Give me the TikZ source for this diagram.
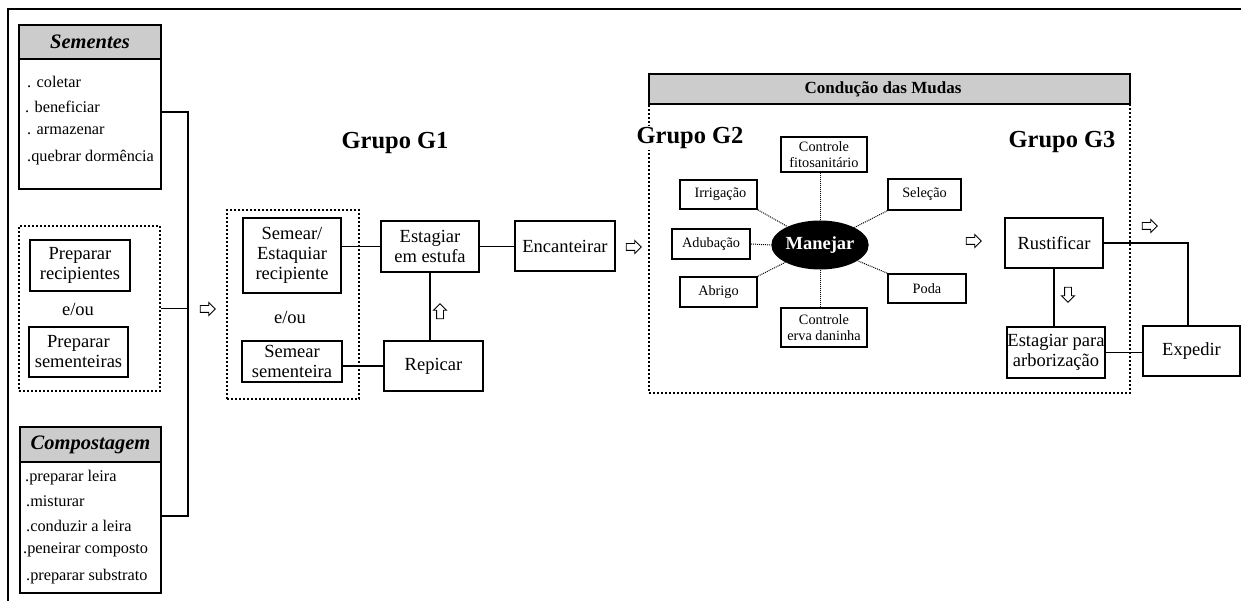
\documentclass[tikz,border=0pt]{standalone}
\usepackage{fontspec}
\setmainfont{Liberation Serif}
\usetikzlibrary{shapes.geometric,shapes.arrows}
\definecolor{hdgray}{gray}{0.80}
\tikzset{
  bx/.style={draw, line width=1.9pt, fill=white, inner sep=0pt, align=center,
    font=\fontsize{18.5}{20}\selectfont},
  sbx/.style={draw, line width=1.7pt, fill=white, inner sep=0pt, align=center,
    font=\fontsize{14.3}{16}\selectfont},
  hd/.style={draw, line width=1.9pt, fill=hdgray, inner sep=0pt,
    font=\fontsize{20.5}{22}\selectfont\bfseries\itshape},
  body/.style={draw, line width=1.9pt, fill=white, inner sep=0pt},
  item/.style={anchor=west, inner sep=0pt, font=\fontsize{16.3}{18}\selectfont},
  dotbox/.style={draw, line width=2.2pt, dash pattern=on 2pt off 2pt, inner sep=0pt},
  grp/.style={font=\fontsize{24.5}{27}\selectfont\bfseries, inner sep=1pt},
  conn/.style={line width=1.9pt},
  dconn/.style={line width=1pt, dash pattern=on 1pt off 1pt},
  lbl/.style={font=\fontsize{18.5}{20}\selectfont, inner sep=0pt},
  harrow/.style={single arrow, draw, fill=white, line width=0.9pt, inner xsep=0pt, inner ysep=3pt,
    minimum height=15pt, single arrow head extend=3pt}
}
\begin{document}
\begin{tikzpicture}[x=1pt,y=-1pt]
\useasboundingbox (0,0) rectangle (1241,601);
% outer frame
\draw[line width=1.9pt] (1241,9) -- (8,9) -- (8,601);

% ---- Sementes
\node[body, minimum width=142pt, minimum height=130pt] (sembody) at (90,124) {};
\node[hd, minimum width=142pt, minimum height=34pt] (semhead) at (90,42) {Sementes};
\node[item] (s1) at (27,82) {. coletar};
\node[item] (s2) at (25,107) {. beneficiar};
\node[item] (s3) at (27,131) {. armazenar};
\node[item] (s4) at (27,158) {.quebrar dormência};

% ---- Preparar
\node[dotbox, minimum width=141pt, minimum height=165pt] (prep) at (89.5,308.5) {};
\node[bx, minimum width=100pt, minimum height=51pt] (prec) at (80,265.5) {Preparar\\recipientes};
\node[lbl] (eou1) at (78,309) {e/ou};
\node[bx, minimum width=99pt, minimum height=50pt] (psem) at (78.5,352) {Preparar\\sementeiras};

% ---- Compostagem
\node[body, minimum width=141pt, minimum height=131pt] (compbody) at (90.5,527.5) {};
\node[hd, minimum width=141pt, minimum height=35pt] (comphead) at (90.5,444.5) {Compostagem};
\node[item] (c1) at (25,478) {.preparar leira};
\node[item] (c2) at (26,501) {.misturar};
\node[item] (c3) at (26,526) {.conduzir a leira};
\node[item] (c4) at (23,550) {.peneirar composto};
\node[item] (c5) at (26,577) {.preparar substrato};

% bus
\coordinate (busT) at (188,112);
\coordinate (busB) at (188,516);
\draw[conn] (sembody.east |- busT) -- (busT) -- (busB) -- (compbody.east |- busB);
\draw[conn] (prep.east) -- (prep.east -| busT);
\node[harrow] (a1) at (206,309) {};

% ---- Grupo G1
\node[grp] (g1) at (395,143) {Grupo G1};
\node[dotbox, minimum width=132pt, minimum height=189pt] (g1box) at (293,304.5) {};
\node[bx, minimum width=98pt, minimum height=75pt] (sem1) at (292,255.5) {Semear/\\Estaquiar\\recipiente};
\node[lbl] (eou2) at (290,317) {e/ou};
\node[bx, minimum width=100pt, minimum height=41pt] (sem2) at (292,361.5) {Semear\\sementeira};
\node[bx, minimum width=98pt, minimum height=51pt] (estuf) at (430,246.5) {Estagiar\\em estufa};
\node[bx, minimum width=100pt, minimum height=50pt] (encan) at (565,246) {Encanteirar};
\node[bx, minimum width=99pt, minimum height=50pt] (repic) at (433.5,366) {Repicar};
\draw[conn] (estuf.west) -- (estuf.west -| sem1.east);
\draw[conn] (estuf.east) -- (estuf.east -| encan.west);
\draw[conn] (estuf.south) -- (estuf.south |- repic.north);
\draw[conn] (repic.west) -- (repic.west -| sem2.east);
\node[harrow, rotate=90] (a2) at (440,313) {};
\node[harrow] (a3) at (632,247) {};

% ---- Condução das Mudas
\node[dotbox, minimum width=481pt, minimum height=289pt] (condbox) at (889.5,248.5) {};
\node[draw, line width=1.9pt, fill=hdgray, inner sep=0pt, minimum width=481pt, minimum height=30pt,
  font=\fontsize{17}{19}\selectfont\bfseries] (condhead) at (889.5,89) {\hspace*{-13pt}Condução das Mudas};
\node[grp, fill=white] (g2) at (690,138) {Grupo G2};
\node[grp] (g3) at (1062,142) {Grupo G3};

\node[sbx, minimum width=86pt, minimum height=35pt] (fito) at (824,154.5) {Controle\\fitosanitário};
\node[sbx, minimum width=77pt, minimum height=29pt] (irr) at (718.5,194.5) {\hspace*{4pt}Irrigação};
\node[sbx, minimum width=73pt, minimum height=31pt] (sel) at (924.5,194.5) {Seleção};
\node[sbx, minimum width=78pt, minimum height=30pt] (adu) at (711,244) {Adubação};
\node[sbx, minimum width=77pt, minimum height=30pt] (abr) at (718.5,292) {Abrigo};
\node[sbx, minimum width=78pt, minimum height=29pt] (poda) at (927,288.5) {Poda};
\node[sbx, minimum width=86pt, minimum height=39pt] (erva) at (824,327.5) {Controle\\erva daninha};
\node[ellipse, fill=black, text=white, inner sep=0pt, minimum width=83pt, minimum height=49pt,
  font=\fontsize{18.5}{20}\selectfont\bfseries] (man) at (820,245) {Manejar};
\draw[dconn] (man.north) -- (man.north |- fito.south);
\draw[dconn] (man.south) -- (man.south |- erva.north);
\draw[dconn] (irr.south east) -- (man);
\draw[dconn] (adu.east) -- (man.west);
\draw[dconn] (abr.north east) -- (man);
\draw[dconn] (sel.south west) -- (man);
\draw[dconn] (poda.north west) -- (man);
\node[harrow] (a4) at (972,241) {};

% ---- Grupo G3
\node[bx, minimum width=98pt, minimum height=50pt] (rust) at (1054,243) {Rustificar};
\node[bx, minimum width=98pt, minimum height=51pt] (arbo) at (1056,352.5) {Estagiar para\\arborização};
\node[bx, minimum width=97pt, minimum height=50pt] (exped) at (1191.5,351) {Expedir};
\coordinate (rexp) at (1188,243);
\draw[conn] (rust.south) -- (rust.south |- arbo.north);
\draw[conn] (rust.east) -- (rexp) -- (rexp |- exped.north);
\draw[conn] (arbo.east) -- (arbo.east -| exped.west);
\node[harrow, rotate=-90] (a5) at (1068,293) {};
\node[harrow] (a6) at (1148,226) {};
\end{tikzpicture}
\end{document}
